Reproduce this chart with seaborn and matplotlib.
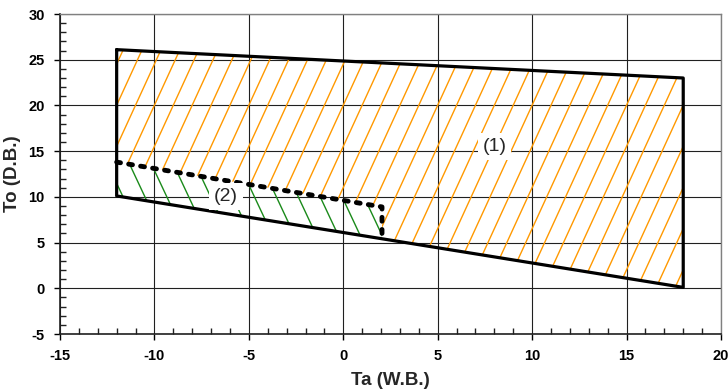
import numpy as np
import matplotlib
matplotlib.use("Agg")
import matplotlib.pyplot as plt
from matplotlib.patches import Polygon
from matplotlib.collections import LineCollection
from matplotlib.ticker import MultipleLocator
import seaborn as sns
import pandas as pd

# =============================
#  Data
# =============================
# zone (1): full operating envelope
zone1_x = [-12, 18, 18, -12]
zone1_y = [26.1, 23.0, 0.1, 10.1]

# zone (2): dashed upper limit (bottom follows the lower edge of zone 1)
zone2_x = [-12, 2.05, 2.05]
zone2_y = [13.8, 8.9, 5.95]

labels = ["(1)", "(2)"]
label_x = [8.0, -6.2]
label_y = [15.5, 10.0]

x_ticks = [-15, -10, -5, 0, 5, 10, 15, 20]
y_ticks = [-5, 0, 5, 10, 15, 20, 25, 30]

# =============================
#  Style
# =============================
sns.set_style("white")
plt.rcParams["font.family"] = ["Liberation Sans", "DejaVu Sans"]
plt.rcParams["axes.unicode_minus"] = False

fig = plt.figure(figsize=(7.28, 3.92), dpi=100)
ax = fig.add_axes([60 / 728, 1 - 334 / 392, 661 / 728, 320 / 392])

ax.set_xlim(-15, 20)
ax.set_ylim(-5, 30)
ax.set_xticks(x_ticks)
ax.set_yticks(y_ticks)
ax.set_xticklabels([str(v) for v in x_ticks], fontweight="bold")
ax.set_yticklabels([str(v) for v in y_ticks], fontweight="bold")
ax.xaxis.set_minor_locator(MultipleLocator(1))
ax.yaxis.set_minor_locator(MultipleLocator(1))
ax.grid(True, which="major", color="#202020", linewidth=0.8)
ax.set_axisbelow(True)
ax.tick_params(which="both", bottom=True, left=True, top=False, right=False)
ax.tick_params(which="major", direction="out", length=4, width=1, pad=7,
               labelsize=10.5, colors="black")
ax.tick_params(which="minor", direction="in", length=4, width=1, color="#202020")
for side in ["left", "bottom"]:
    ax.spines[side].set_color("#202020")
    ax.spines[side].set_linewidth(1.2)
for side in ["top", "right"]:
    ax.spines[side].set_color("#808080")
    ax.spines[side].set_linewidth(1.0)

# =============================
#  Hatch regions
# =============================
def lower_edge(x):
    return np.interp(x, [zone1_x[3], zone1_x[2]], [zone1_y[3], zone1_y[2]])

z2_bottom = lower_edge(zone2_x[-1])
poly2 = list(zip(zone2_x, zone2_y)) + [(zone2_x[-1], z2_bottom), (zone1_x[3], zone1_y[3])]
poly1 = [(zone1_x[0], zone1_y[0]), (zone1_x[1], zone1_y[1]), (zone1_x[2], zone1_y[2]),
         (zone2_x[-1], z2_bottom)] + list(zip(zone2_x, zone2_y))[::-1]


def hatch(poly, slope, step, phase, color):
    clip = Polygon(poly, closed=True, facecolor="none", edgecolor="none")
    ax.add_patch(clip)
    segs = []
    for c in np.arange(-40 + phase, 40, step):
        y0, y1 = -5, 30
        segs.append([(c + y0 / slope, y0), (c + y1 / slope, y1)])
    lc = LineCollection(segs, colors=color, linewidths=1.0, zorder=2)
    lc.set_clip_path(clip)
    ax.add_collection(lc)


hatch(poly1, 4.5, 1.0, 0.55, "#ff9900")
hatch(poly2, -4.4, 1.16, 0.45, "#1a8a1a")

# =============================
#  Outlines
# =============================
outline = pd.DataFrame({"x": zone1_x + zone1_x[:1], "y": zone1_y + zone1_y[:1]})
sns.lineplot(data=outline, x="x", y="y", sort=False, estimator=None,
             color="black", linewidth=2.3, ax=ax, zorder=4)
dashed = pd.DataFrame({"x": zone2_x, "y": zone2_y})
sns.lineplot(data=dashed, x="x", y="y", sort=False, estimator=None,
             color="black", linewidth=3.5, ax=ax, zorder=4,
             linestyle=(0, (0.8, 1.7)), dash_capstyle="round",
             solid_joinstyle="round")

for t, lx, ly in zip(labels, label_x, label_y):
    ax.text(lx, ly, t, fontsize=14, ha="center", va="center", zorder=5,
            bbox=dict(facecolor="white", edgecolor="none", pad=3.5))

ax.set_xlabel("Ta (W.B.)", fontsize=13.5, fontweight="bold", labelpad=6)
ax.set_ylabel("To (D.B.)", fontsize=13.5, fontweight="bold", labelpad=5)

fig.savefig("out.png", dpi=100)
plt.close(fig)
